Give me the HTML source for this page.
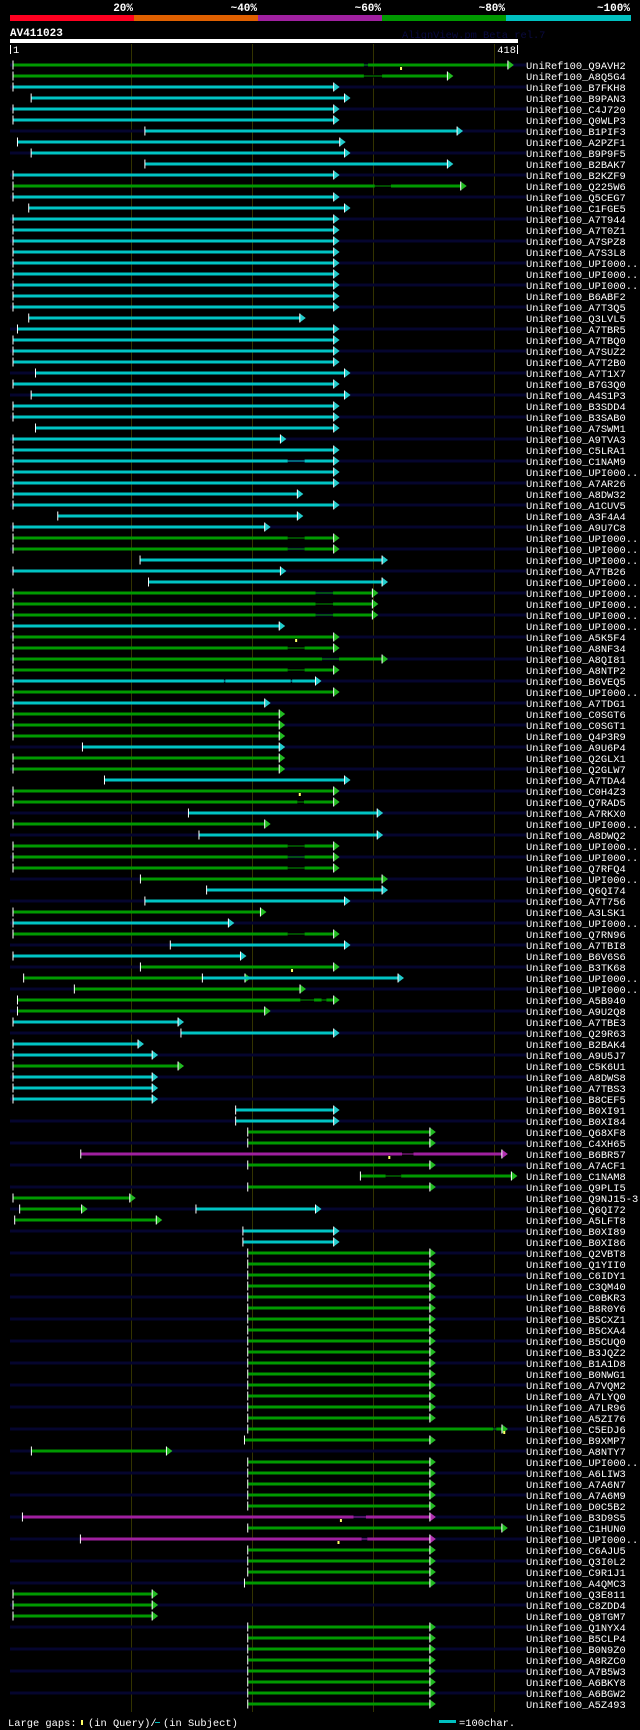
<!DOCTYPE html>
<html><head><meta charset="utf-8">
<style>
html,body{margin:0;padding:0;background:#000;}
svg{display:block;}
text{font-family:"Liberation Mono","DejaVu Sans Mono",monospace;}
</style></head>
<body>
<svg id="chart" width="640" height="1730" viewBox="0 0 640 1730" xmlns="http://www.w3.org/2000/svg">
<rect x="0" y="0" width="640" height="1730" fill="#000"/>
<g>
<rect x="10" y="15" width="124" height="6" fill="#ff0020"/>
<rect x="134" y="15" width="124" height="6" fill="#e06000"/>
<rect x="258" y="15" width="124" height="6" fill="#a020a0"/>
<rect x="382" y="15" width="124" height="6" fill="#009900"/>
<rect x="506" y="15" width="125" height="6" fill="#00c0c0"/>
<text x="133" y="11" fill="#fff" font-size="11" font-weight="bold" text-anchor="end">20%</text>
<text x="257" y="11" fill="#fff" font-size="11" font-weight="bold" text-anchor="end">~40%</text>
<text x="381" y="11" fill="#fff" font-size="11" font-weight="bold" text-anchor="end">~60%</text>
<text x="505" y="11" fill="#fff" font-size="11" font-weight="bold" text-anchor="end">~80%</text>
<text x="630" y="11" fill="#fff" font-size="11" font-weight="bold" text-anchor="end">~100%</text>
</g>
<text x="10" y="36" fill="#fff" font-size="11" font-weight="bold">AV411023</text>
<text x="402" y="38" fill="#0a0a40" font-size="10.4">AlignView.pm Beta rel.7</text>
<rect x="10" y="39" width="508" height="4" fill="#fff"/>
<rect x="10" y="45" width="1" height="9" fill="#fff"/>
<text x="13" y="53" fill="#fff" font-size="10.4">1</text>
<rect x="517" y="45" width="1" height="9" fill="#fff"/>
<text x="516" y="53" fill="#fff" font-size="10.4" text-anchor="end">418</text>
<g id="grid"></g>
<g id="rows"></g>
<g>
<text x="8" y="1726" fill="#fff" font-size="10.4">Large gaps:</text>
<rect x="81" y="1720" width="2" height="5" fill="#ffff66"/>
<text x="88" y="1726" fill="#fff" font-size="10.4">(in Query)/</text>
<rect x="155" y="1722" width="5" height="1" fill="#00c0c0"/>
<text x="163" y="1726" fill="#fff" font-size="10.4">(in Subject)</text>
<rect x="439" y="1720" width="17" height="3" fill="#00c0c0"/>
<text x="459" y="1726" fill="#fff" font-size="10.4">=100char.</text>
</g>
</svg>
<script>
var rowNames = ["Q9AVH2","A8Q5G4","B7FKH8","B9PAN3","C4J720","Q0WLP3","B1PIF3","A2PZF1","B9P9F5","B2BAK7",
"B2KZF9","Q225W6","Q5CEG7","C1FGE5","A7T944","A7T0Z1","A7SPZ8","A7S3L8","UPI000..","UPI000..",
"UPI000..","B6ABF2","A7T3Q5","Q3LVL5","A7TBR5","A7TBQ0","A7SUZ2","A7T2B0","A7T1X7","B7G3Q0",
"A4S1P3","B3SDD4","B3SAB0","A7SWM1","A9TVA3","C5LRA1","C1NAM9","UPI000..","A7AR26","A8DW32",
"A1CUV5","A3F4A4","A9U7C8","UPI000..","UPI000..","UPI000..","A7TB26","UPI000..","UPI000..","UPI000..",
"UPI000..","UPI000..","A5K5F4","A8NF34","A8QI81","A8NTP2","B6VEQ5","UPI000..","A7TDG1","C0SGT6",
"C0SGT1","Q4P3R9","A9U6P4","Q2GLX1","Q2GLW7","A7TDA4","C0H4Z3","Q7RAD5","A7RKX0","UPI000..",
"A8DWQ2","UPI000..","UPI000..","Q7RFQ4","UPI000..","Q6QI74","A7T756","A3LSK1","UPI000..","Q7RN96",
"A7TBI8","B6V6S6","B3TK68","UPI000..","UPI000..","A5B940","A9U2Q8","A7TBE3","Q29R63","B2BAK4",
"A9U5J7","C5K6U1","A8DWS8","A7TBS3","B8CEF5","B0XI91","B0XI84","Q68XF8","C4XH65","B6BR57",
"A7ACF1","C1NAM8","Q9PLI5","Q9NJ15-3","Q6QI72","A5LFT8","B0XI89","B0XI86","Q2VBT8","Q1YII0",
"C6IDY1","C3QM40","C0BKR3","B8R0Y6","B5CXZ1","B5CXA4","B5CUQ0","B3JQZ2","B1A1D8","B0NWG1",
"A7VQM2","A7LYQ0","A7LR96","A5ZI76","C5EDJ6","B9XMP7","A8NTY7","UPI000..","A6LIW3","A7A6N7",
"A7A6M9","D0C5B2","B3D9S5","C1HUN0","UPI000..","C6AJU5","Q3I0L2","C9R1J1","A4QMC3","Q3E811",
"C8ZDD4","Q8TGM7","Q1NYX4","B5CLP4","B0N9Z0","A8RZC0","A7B5W3","A6BKY8","A6BGW2","A5Z493"];
var hitFrom = [1,1,1,16,1,1,110,4.7,16,110,
1,1,1,14,1,1,1,1,1,1,
1,1,1,14,4.7,1,1,1,19.6,1,
16,1,1,19.6,1,1,1,1,1,1,
1,38,1,1,1,106,1,113,1,1,
1,1,1,1,1,1,1,1,1,1,
1,1,58.4,1,1,76.6,1,1,146,1,
154.7,1,1,1,106.3,161,110,1,1,1,
131,1,106.3,9.8,51.7,4.7,4.7,1,139.8,1,
1,1,1,1,1,185,185,195,195,57,
195,288.1,195,1,6.5,2.4,191,191,195,195,
195,195,195,195,195,195,195,195,195,195,
195,195,195,195,195,192.3,16.2,195,195,195,
195,195,8.8,195,56.7,195,195,195,192.3,1,
1,1,195,195,195,195,195,195,195,195];
var hitTo = [410,360,266,275,266,266,368,271,275,360,
266,371,266,275,266,266,266,266,266,266,
266,266,266,238,266,266,266,266,275,266,
275,266,266,266,222,266,266,266,266,236,
266,236,209,266,266,306,222,306,298,298,
298,221,266,266,306,266,251,266,209,221,
221,221,221,221,221,275,266,266,302,209,
302,266,266,266,306,306,275,205.5,179,266,
275,189,266,192.7,238.2,266,209,137.4,266,104.3,
116,137.4,116,116,116,266,266,345.5,345.5,405,
345.5,412.9,345.5,97.5,57.7,119.4,266,266,345.5,345.5,
345.5,345.5,345.5,345.5,345.5,345.5,345.5,345.5,345.5,345.5,
345.5,345.5,345.5,345.5,405.1,345.5,127.8,345.5,345.5,345.5,
345.5,345.5,345.5,405,345.5,345.5,345.5,345.5,345.5,116,
116,116,345.5,345.5,345.5,345.5,345.5,345.5,345.5,345.5];
var hitColor = "ggcccccccc"+"cgcccccccc"+"cccccccccc"+"cccccccccc"+"cccggcccgg"+
"gcggggcgcg"+"ggcggcggcg"+"cggggccgcg"+"ccgggggccc"+"cgcccccggm"+
"ggggggccgg"+"gggggggggg"+"gggggggggg"+"ggmgmggggg"+"gggggggggg";
var extraRow = [84,105];
var extraFrom = [157.5,152.2];
var extraTo = [319.2,251];
var extraColor = ["c","c"];
var gapRow = [1,2,12,37,44,45,49,50,51,54,55,56,57,57,68,72,73,74,80,86,86,100,102,125,133,135];
var gapFrom = [291,291,300,228,228,228,251,251,251,228,256.4,228,175.3,230.5,236,228,228,228,228,238.5,256,322.5,308.9,397.7,282.4,289.1];
var gapTo = [294.4,306,313.4,242,242,242,265.5,265.5,265.5,242,270.4,242,176.5,231.7,241.5,242,242,242,242,249.8,260,332,321.8,400.4,292.7,293.8];
var qGapRow = [1,53,67,83,100,125,133,135];
var qGapPos = [321.7,235,238,231.6,312,407,272,270];
var gridTicks = [100,200,300,400];

var NS = "http://www.w3.org/2000/svg";
var lineColors = {g:"#009900", c:"#00c4c4", m:"#a020a0"};
var arrowColors = {g:"#22bb22", c:"#22cccc", m:"#b030b0"};
function xs(r){ return 13 + (r - 1) * 1.21; }
function ys(i){ return 65 + i * 11; }
function mk(tag, attrs, parent){
  var e = document.createElementNS(NS, tag);
  for (var k in attrs) e.setAttribute(k, attrs[k]);
  parent.appendChild(e);
  return e;
}
var gridG = document.getElementById("grid");
for (var t = 0; t < gridTicks.length; t++) {
  var gl = mk("rect", {x: Math.round(10 + gridTicks[t] * 1.21), y: 44, width: 1, height: 1668, fill: "#333300"}, gridG);
  
  
}
var rowsG = document.getElementById("rows");
var rowGroups = [];
for (var i = 0; i < rowNames.length; i++) {
  var g = mk("g", {}, rowsG);
  
  
  rowGroups.push(g);
  var y = ys(i);
  if (i % 2 === 0) {
    var bg = mk("rect", {x: 10, y: y - 1.5, width: 516, height: 3, fill: "#05052e"}, g);
    
    
  }
  var lab = mk("text", {x: 526, y: y + 4, fill: "#fff", "font-size": "10.4"}, g);
  lab.textContent = "UniRef100_" + rowNames[i];
  
  
}
function drawHsp(row, from, to, col){
  var g = rowGroups[row - 1], y = ys(row - 1);
  var x0 = xs(from), x1 = xs(to);
  var bar = mk("rect", {x: x0, y: y - 1.5, width: Math.max(0, x1 - x0), height: 3, fill: lineColors[col]}, g);
  
  
  var st = mk("rect", {x: x0 - 0.5, y: y - 4.5, width: 1, height: 9, fill: "#fff"}, g);
  
  
  var ar = mk("polygon", {points: x1 + "," + (y - 4.5) + " " + (x1 + 6) + "," + y + " " + x1 + "," + (y + 4.5), fill: arrowColors[col]}, g);
  
  
  var ae = mk("rect", {x: x1 - 0.5, y: y - 4.5, width: 1, height: 9, fill: "#fff"}, g);
  
  
}
for (var i = 0; i < rowNames.length; i++) drawHsp(i + 1, hitFrom[i], hitTo[i], hitColor.charAt(i));
for (var j = 0; j < extraRow.length; j++) drawHsp(extraRow[j], extraFrom[j], extraTo[j], extraColor[j]);
for (var j = 0; j < gapRow.length; j++) {
  var r = gapRow[j], y = ys(r - 1), g = rowGroups[r - 1];
  var col = hitColor.charAt(r - 1);
  var x0 = xs(gapFrom[j]), x1 = xs(gapTo[j]);
  var cl = mk("rect", {x: x0, y: y - 1.5, width: Math.max(1, x1 - x0), height: 3, fill: (r % 2 === 1) ? "#05052e" : "#000"}, g);
  
  
  var ln = mk("rect", {x: x0, y: y - 0.5, width: Math.max(1, x1 - x0), height: 1, fill: lineColors[col]}, g);
  
  
}
for (var j = 0; j < qGapRow.length; j++) {
  var r = qGapRow[j], y = ys(r - 1), g = rowGroups[r - 1];
  var qm = mk("rect", {x: xs(qGapPos[j]) - 1, y: y + 2, width: 2, height: 3, fill: "#ffff66"}, g);
  
  
}
</script>
</body></html>
